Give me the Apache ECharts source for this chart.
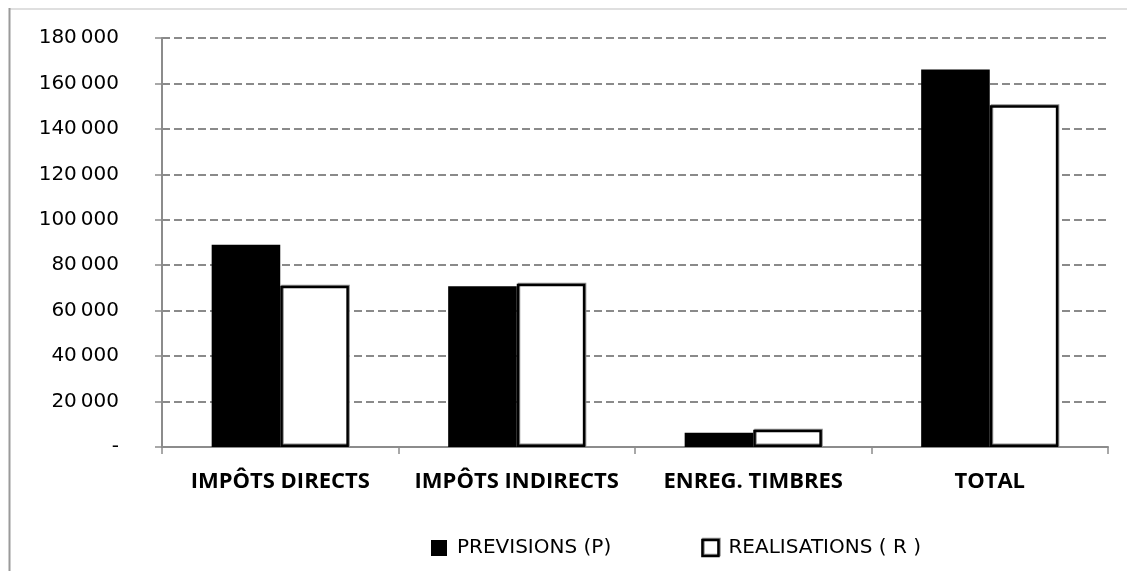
<!DOCTYPE html>
<html>
<head>
<meta charset="utf-8">
<script src="https://cdn.jsdelivr.net/npm/echarts@6/dist/echarts.min.js"></script>
<style>
  html, body { margin: 0; padding: 0; background: #fff; }
  #chart { width: 1127px; height: 571px; }
</style>
</head>
<body>
<div id="chart"></div>
<script>
// Recettes fiscales : prévisions et réalisations
const categories = ['IMPÔTS DIRECTS', 'IMPÔTS INDIRECTS', 'ENREG. TIMBRES', 'TOTAL'];
const previsions = [89000, 70800, 6300, 166100];
const realisations = [71000, 71800, 7600, 150400];
const yTicks = [0, 20000, 40000, 60000, 80000, 100000, 120000, 140000, 160000, 180000];

const LABEL_FONT = '"DejaVu Sans", sans-serif';
const CAT_FONT = '"Open Sans", "Noto Sans", sans-serif';

function fmt(v) {
  if (v === 0) return '-';
  const s = String(v);
  return s.slice(0, s.length - 3) + '\u2009' + s.slice(s.length - 3);
}

const chart = echarts.init(document.getElementById('chart'), null, { renderer: 'canvas' });

chart.setOption({
  backgroundColor: '#fff',
  animation: false,
  graphic: [
    {
      type: 'line',
      shape: { x1: 9, y1: 9, x2: 1127, y2: 9 },
      style: { stroke: '#d4d4d4', lineWidth: 1.5 },
      silent: true
    },
    {
      type: 'line',
      shape: { x1: 9.5, y1: 8, x2: 9.5, y2: 571 },
      style: { stroke: '#9a9a9a', lineWidth: 2 },
      silent: true
    }
  ],
  grid: { left: 162, right: 19, top: 38, bottom: 124 },
  legend: {
    left: 426,
    top: 533,
    itemWidth: 16,
    itemHeight: 16,
    itemGap: 90,
    textStyle: { fontFamily: LABEL_FONT, fontSize: 20, color: '#000', padding: [0, 0, 0, 5] },
    data: [
      { name: 'PREVISIONS (P)', icon: 'rect', itemStyle: { color: '#000', borderWidth: 0 } },
      { name: 'REALISATIONS ( R )', icon: 'rect', itemStyle: { color: '#fff', borderColor: '#000', borderWidth: 2.5, shadowColor: '#8c8c8c', shadowBlur: 0, shadowOffsetX: 1, shadowOffsetY: -1 } }
    ]
  },
  xAxis: {
    type: 'category',
    data: categories,
    axisLine: { lineStyle: { color: '#8c8c8c', width: 2 } },
    axisTick: { show: true, length: 7, lineStyle: { color: '#8c8c8c', width: 1.5 } },
    axisLabel: { interval: 0, fontFamily: CAT_FONT, fontSize: 22, fontWeight: 'bold', color: '#000', margin: 24 }
  },
  yAxis: {
    type: 'value',
    min: 0,
    max: 180000,
    interval: 20000,
    axisLine: { show: true, lineStyle: { color: '#8c8c8c', width: 2 } },
    axisTick: { show: true, length: 7, lineStyle: { color: '#8c8c8c', width: 1.5 } },
    axisLabel: {
      fontFamily: LABEL_FONT, fontSize: 20, color: '#000', margin: 43,
      formatter: v => yTicks.includes(v) ? fmt(v) : ''
    },
    splitLine: { lineStyle: { color: '#8a8a8a', type: [8, 4], width: 1.8 } }
  },
  series: [
    {
      name: 'PREVISIONS (P)',
      type: 'bar',
      data: previsions,
      barGap: '0%',
      barCategoryGap: '42%',
      itemStyle: { color: '#000' }
    },
    {
      name: 'REALISATIONS ( R )',
      type: 'bar',
      data: realisations,
      itemStyle: {
        color: '#fff',
        borderColor: '#000',
        borderWidth: 2.5,
        shadowColor: '#8c8c8c',
        shadowBlur: 0,
        shadowOffsetX: 1,
        shadowOffsetY: -1
      }
    }
  ]
});
</script>
</body>
</html>
